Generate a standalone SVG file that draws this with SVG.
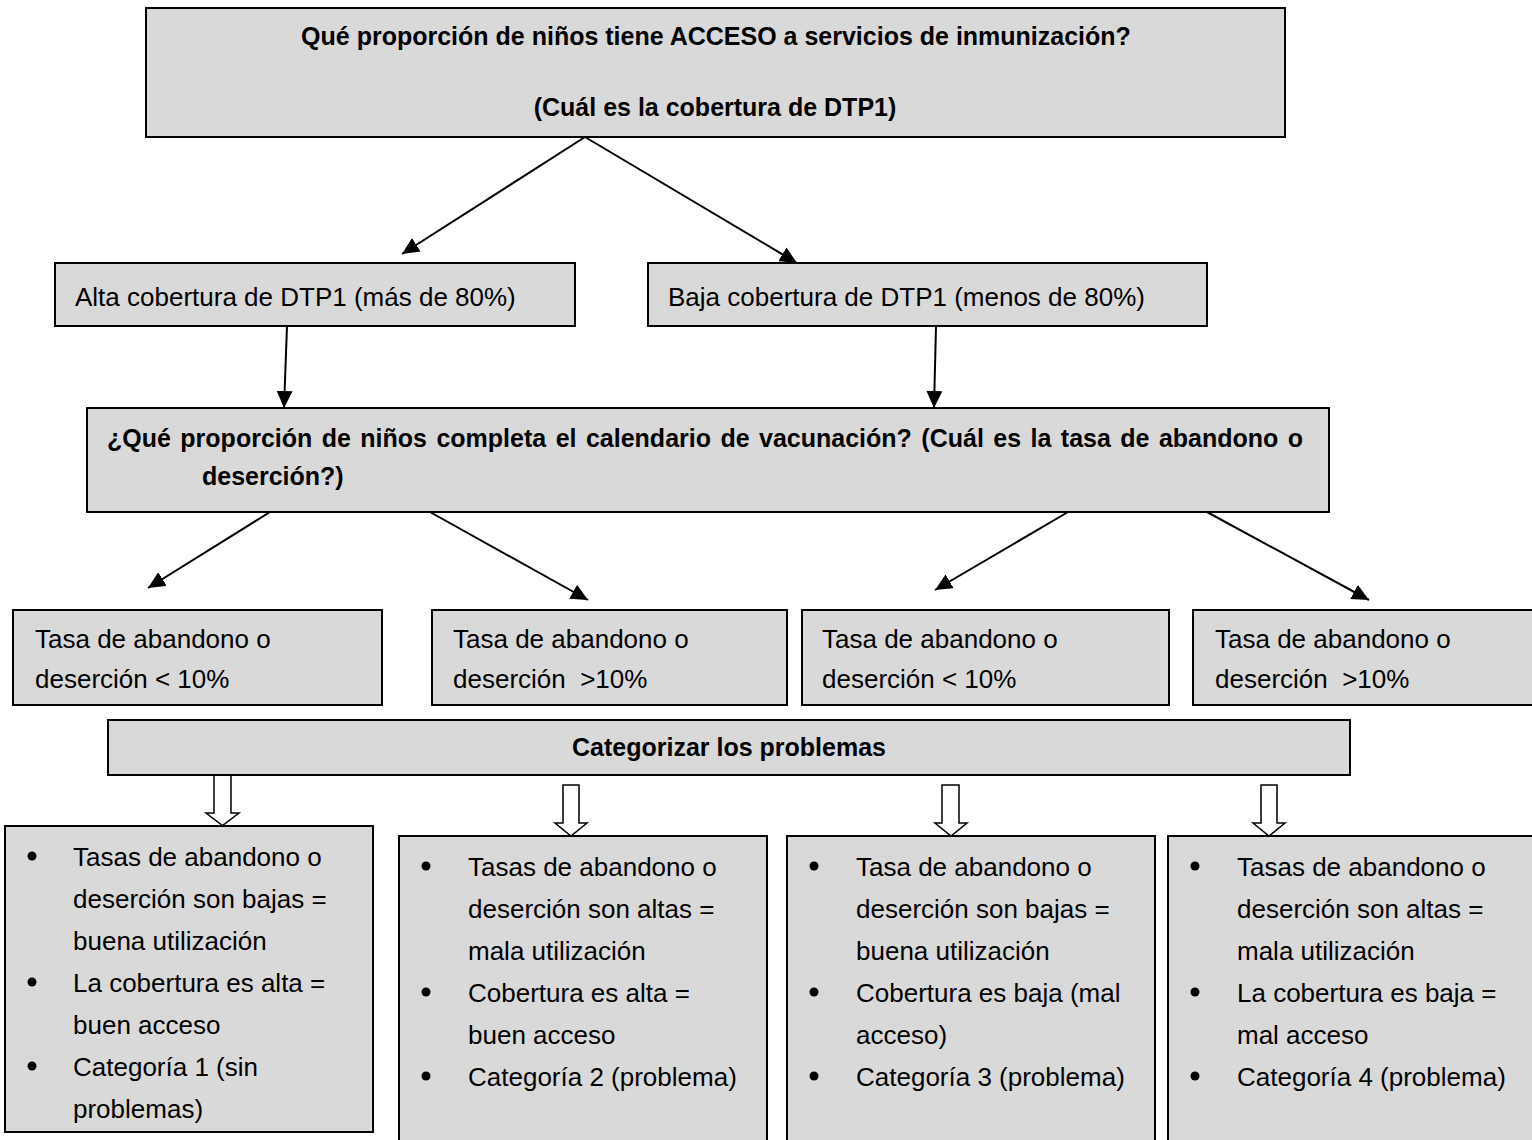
<svg xmlns="http://www.w3.org/2000/svg" width="1532" height="1140" viewBox="0 0 1532 1140">
<style>
.box{fill:#d9d9d9;stroke:#000;stroke-width:2}
.t{font-family:"Liberation Sans",Arial,sans-serif;font-size:26px;fill:#000}
.b{font-family:"Liberation Sans",Arial,sans-serif;font-size:25px;font-weight:bold;fill:#000}
.c{text-anchor:middle}
.con{stroke:#000;stroke-width:2;fill:none;marker-end:url(#ah)}
.blk{fill:#fff;stroke:#000;stroke-width:1.5}
.dot{fill:#000}
</style>
<defs>
<marker id="ah" markerUnits="userSpaceOnUse" markerWidth="18" markerHeight="16" refX="17" refY="8" orient="auto">
<path d="M0,0 L17,8 L0,16 z" fill="#000"/>
</marker>
</defs>
<rect width="1532" height="1140" fill="#fff"/>

<g id="connectors">
<line class="con" x1="585" y1="137" x2="402" y2="254"/>
<line class="con" x1="585" y1="137" x2="797" y2="263"/>
<line class="con" x1="287" y1="326" x2="284" y2="408"/>
<line class="con" x1="936" y1="326" x2="934" y2="408"/>
<line class="con" x1="270" y1="512" x2="148" y2="588"/>
<line class="con" x1="430" y1="512" x2="588" y2="600"/>
<line class="con" x1="1068" y1="512" x2="935" y2="590"/>
<line class="con" x1="1207" y1="512" x2="1369" y2="600"/>
<polygon class="blk" points="214,775 231,775 231,813 239,813 222.5,825.5 206,813 214,813"/>
<polygon class="blk" points="563,785 579,785 579,823 587,823 571,836 555,823 563,823"/>
<polygon class="blk" points="942,785 959,785 959,823 967,823 951,836 935,823 942,823"/>
<polygon class="blk" points="1261,785 1277,785 1277,823 1285,823 1269,836 1253,823 1261,823"/>
</g>

<g id="q1">
<rect class="box" x="146" y="8" width="1139" height="129"/>
<text class="b c" x="716" y="45">Qué proporción de niños tiene ACCESO a servicios de inmunización?</text>
<text class="b c" x="715" y="116">(Cuál es la cobertura de DTP1)</text>
</g>

<g id="alta">
<rect class="box" x="55" y="263" width="520" height="63"/>
<text class="t" x="75" y="306">Alta cobertura de DTP1 (más de 80%)</text>
</g>

<g id="baja">
<rect class="box" x="648" y="263" width="559" height="63"/>
<text class="t" x="668" y="306">Baja cobertura de DTP1 (menos de 80%)</text>
</g>

<g id="q2">
<rect class="box" x="87" y="408" width="1242" height="104"/>
<text class="b" x="107" y="447" word-spacing="2.5">¿Qué proporción de niños completa el calendario de vacunación? (Cuál es la tasa de abandono o</text>
<text class="b" x="202" y="485">deserción?)</text>
</g>

<g id="r1">
<rect class="box" x="13" y="610" width="369" height="95"/>
<text class="t" x="35" y="648">Tasa de abandono o</text>
<text class="t" x="35" y="688" xml:space="preserve">deserción &lt; 10%</text>
</g>
<g id="r2">
<rect class="box" x="432" y="610" width="355" height="95"/>
<text class="t" x="453" y="648">Tasa de abandono o</text>
<text class="t" x="453" y="688" xml:space="preserve">deserción  &gt;10%</text>
</g>
<g id="r3">
<rect class="box" x="802" y="610" width="367" height="95"/>
<text class="t" x="822" y="648">Tasa de abandono o</text>
<text class="t" x="822" y="688" xml:space="preserve">deserción &lt; 10%</text>
</g>
<g id="r4">
<rect class="box" x="1193" y="610" width="345" height="95"/>
<text class="t" x="1215" y="648">Tasa de abandono o</text>
<text class="t" x="1215" y="688" xml:space="preserve">deserción  &gt;10%</text>
</g>

<g id="cat">
<rect class="box" x="108" y="720" width="1242" height="55"/>
<text class="b c" x="729" y="756">Categorizar los problemas</text>
</g>

<g id="c1">
<rect class="box" x="5" y="826" width="368" height="306"/>
<circle class="dot" cx="32" cy="856" r="4.5"/>
<circle class="dot" cx="32" cy="982" r="4.5"/>
<circle class="dot" cx="32" cy="1066" r="4.5"/>
<text class="t" x="73" y="866">Tasas de abandono o</text>
<text class="t" x="73" y="908">deserción son bajas =</text>
<text class="t" x="73" y="950">buena utilización</text>
<text class="t" x="73" y="992">La cobertura es alta =</text>
<text class="t" x="73" y="1034">buen acceso</text>
<text class="t" x="73" y="1076">Categoría 1 (sin</text>
<text class="t" x="73" y="1118">problemas)</text>
</g>

<g id="c2">
<rect class="box" x="399" y="836" width="368" height="320"/>
<circle class="dot" cx="426" cy="866" r="4.5"/>
<circle class="dot" cx="426" cy="992" r="4.5"/>
<circle class="dot" cx="426" cy="1076" r="4.5"/>
<text class="t" x="468" y="876">Tasas de abandono o</text>
<text class="t" x="468" y="918">deserción son altas =</text>
<text class="t" x="468" y="960">mala utilización</text>
<text class="t" x="468" y="1002">Cobertura es alta =</text>
<text class="t" x="468" y="1044">buen acceso</text>
<text class="t" x="468" y="1086">Categoría 2 (problema)</text>
</g>

<g id="c3">
<rect class="box" x="787" y="836" width="368" height="320"/>
<circle class="dot" cx="814" cy="866" r="4.5"/>
<circle class="dot" cx="814" cy="992" r="4.5"/>
<circle class="dot" cx="814" cy="1076" r="4.5"/>
<text class="t" x="856" y="876">Tasa de abandono o</text>
<text class="t" x="856" y="918">deserción son bajas =</text>
<text class="t" x="856" y="960">buena utilización</text>
<text class="t" x="856" y="1002">Cobertura es baja (mal</text>
<text class="t" x="856" y="1044">acceso)</text>
<text class="t" x="856" y="1086">Categoría 3 (problema)</text>
</g>

<g id="c4">
<rect class="box" x="1168" y="836" width="380" height="320"/>
<circle class="dot" cx="1195" cy="866" r="4.5"/>
<circle class="dot" cx="1195" cy="992" r="4.5"/>
<circle class="dot" cx="1195" cy="1076" r="4.5"/>
<text class="t" x="1237" y="876">Tasas de abandono o</text>
<text class="t" x="1237" y="918">deserción son altas =</text>
<text class="t" x="1237" y="960">mala utilización</text>
<text class="t" x="1237" y="1002">La cobertura es baja =</text>
<text class="t" x="1237" y="1044">mal acceso</text>
<text class="t" x="1237" y="1086">Categoría 4 (problema)</text>
</g>
</svg>
